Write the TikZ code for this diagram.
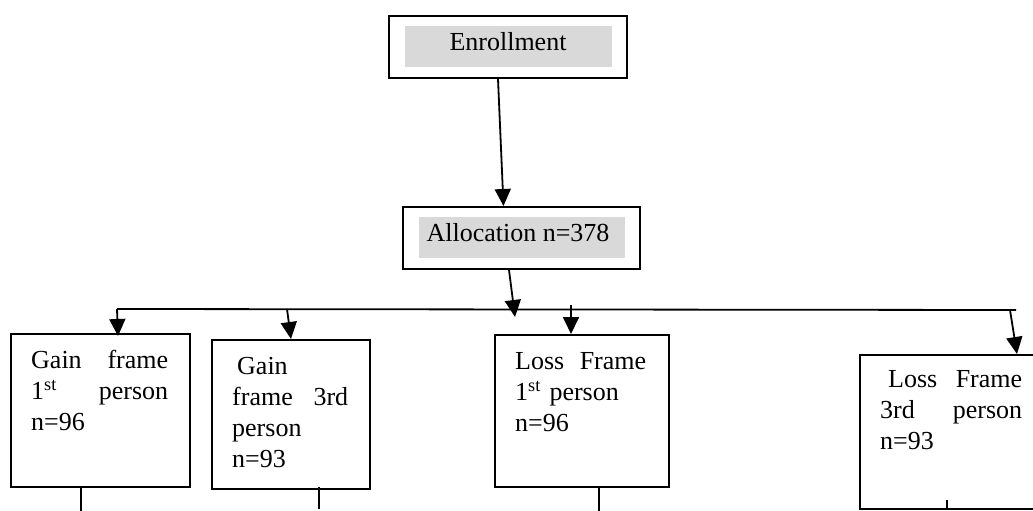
\documentclass[tikz,border=0pt]{standalone}
\usepackage{fontspec}
\setmainfont{Liberation Serif}
\usetikzlibrary{arrows.meta}
\usetikzlibrary{positioning}
\tikzstyle{every node}+=[inner sep=0pt]
\tikzstyle{block} = [rectangle, draw, line width=2pt]
\tikzstyle{shade} = [fill=black!15, font=\fontsize{26}{31}\selectfont, text height=17pt, text depth=9pt, minimum height=41pt]
\tikzstyle{txt} = [font=\fontsize{26}{31}\selectfont, align=left, anchor=north west]
\tikzstyle{line} = [draw, line width=1.8pt, -{Triangle[length=17pt,width=16pt]}]
\tikzstyle{stub} = [draw, line width=1.8pt]

\begin{document}
\begin{tikzpicture}[x=1pt, y=-1pt]
            \useasboundingbox (0,0) rectangle (1033,511);
            \clip (0,0) rectangle (1033,511);
            % Place nodes
            \node [block, minimum width=238pt, minimum height=62pt] (enroll) at (508,47) {};
            \node [shade, minimum width=207pt] (enrollt) at (enroll) {Enrollment};
            \node [block, minimum width=237pt, minimum height=62pt] (alloc) at (521.5,238) {};
            \node [shade, minimum width=206pt] (alloct) at (522,237.5) {Allocation n=378\hspace*{8pt}};
            \node [block, anchor=north west, minimum width=179pt, minimum height=153pt] (g1) at (10,333) {};
            \node [txt, text width=137pt, below right=17pt and 21pt of g1.north west] (g1t) {Gain\hfill frame\\1\textsuperscript{st}\hfill person\\n=96};
            \node [block, anchor=north west, minimum width=158pt, minimum height=149pt] (g3) at (211,339) {};
            \node [txt, text width=116pt, below right=18pt and 21pt of g3.north west] (g3t) {\hspace*{5pt}Gain\\frame\hfill 3rd\\person\\n=93};
            \node [block, anchor=north west, minimum width=174pt, minimum height=152pt] (l1) at (494,334) {};
            \node [txt, text width=131pt, below right=18pt and 21pt of l1.north west] (l1t) {Loss\hfill Frame\\1\textsuperscript{st} person\\n=96};
            \node [block, anchor=north west, minimum width=190pt, minimum height=154pt] (l3) at (859,354) {};
            \node [txt, text width=142pt, below right=16pt and 21pt of l3.north west] (l3t) {\hspace*{8pt}Loss\hfill Frame\\3rd\hfill person\\n=93};
            \coordinate (busL) at (117,309);
            \coordinate (busR) at (1016,310);
            \coordinate (hub) at (515,317);
            % Draw edges
            \path [line] ([xshift=-10pt]enroll.south) -- ([xshift=-18pt]alloc.north);
            \path [line] ([xshift=-12.5pt]alloc.south) -- (hub);
            \path [stub] (busL) -- (busR);
            \path [line] (busL) -- ([xshift=17.5pt, yshift=-3pt]g1.north);
            \path [line] ([xshift=-4pt]busL -| g3.north) -- (g3.north);
            \path [line] ([yshift=4pt]busL -| l1.north) ++(-11pt,0) -- ([xshift=-11pt]l1.north);
            \path [line] (busR) ++(-6pt,0) -- ([xshift=158pt]l3.north west);
            \path [stub] ([xshift=-19.5pt]g1.south) -- +(0,25);
            \path [stub] ([xshift=28pt, yshift=3pt]g3.south) -- +(0,22);
            \path [stub] ([xshift=17pt]l1.south) -- +(0,25);
            \path [stub] ([xshift=-8pt]l3.south) -- +(0,-10);
          \end{tikzpicture}
\end{document}
